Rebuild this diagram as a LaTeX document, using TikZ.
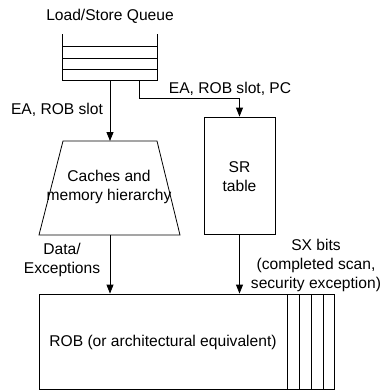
\documentclass[tikz,border=0pt]{standalone}
\usepackage{fontspec}
\setmainfont{Liberation Sans}
\usetikzlibrary{arrows.meta}
\tikzset{
  lbl/.style={font=\fontsize{15.6}{19}\selectfont, align=center, inner sep=0pt},
  box/.style={draw, line width=0.8pt, inner sep=0pt},
  conn/.style={line width=0.8pt, -{Triangle[length=9pt,width=7pt]}},
  plain/.style={line width=0.8pt}
}
\begin{document}
\begin{tikzpicture}[x=1pt,y=-1pt]
\useasboundingbox (0,0) rectangle (383,392);
% Load/Store Queue
\node[lbl] (lsqtitle) at (110,16) {Load/Store Queue};
\draw[plain] (62,34) -- (62,80) -- (157,80) -- (157,34);
\draw[plain] (62,46) -- (157,46);
\draw[plain] (62,58) -- (157,58);
\draw[plain] (62,69.5) -- (157,69.5);
\coordinate (lsqout) at (110,80);
\coordinate (lsqside) at (139,80);
% Caches trapezoid
\draw[plain] (39,235) -- (63,141) -- (157,141) -- (180,235) -- cycle;
\coordinate (cachetop) at (110,141);
\coordinate (cachebot) at (110,235);
\node[lbl] (cachetxt) at (109,187) {Caches and\\memory hierarchy};
% SR table
\node[box, minimum width=71pt, minimum height=117pt] (sr) at (239.5,175.5) {};
\node[lbl] (srtxt) at (239.5,176.5) {SR\\table};
% ROB
\node[box, minimum width=295pt, minimum height=95pt] (rob) at (186.5,341.5) {};
\node[lbl] (robtxt) at (163,342) {ROB (or architectural equivalent)};
\foreach \xx in {287,299,311,323} \draw[plain] (\xx,294) -- (\xx,389);
% connectors
\draw[conn] (lsqout) -- (cachetop);
\draw[conn] (lsqside) -- (139,98) -| (sr.north);
\draw[conn] (cachebot) -- (cachebot |- rob.north);
\draw[conn] (sr.south) -- (sr.south |- rob.north);
% labels
\node[lbl] (l1) at (57,110) {EA, ROB slot};
\node[lbl] (l2) at (230,89) {EA, ROB slot, PC};
\node[lbl] (l3) at (62,259.5) {Data/\\Exceptions};
\node[lbl] (l4) at (316,265) {SX bits\\(completed scan,\\security exception)};
\end{tikzpicture}
\end{document}
